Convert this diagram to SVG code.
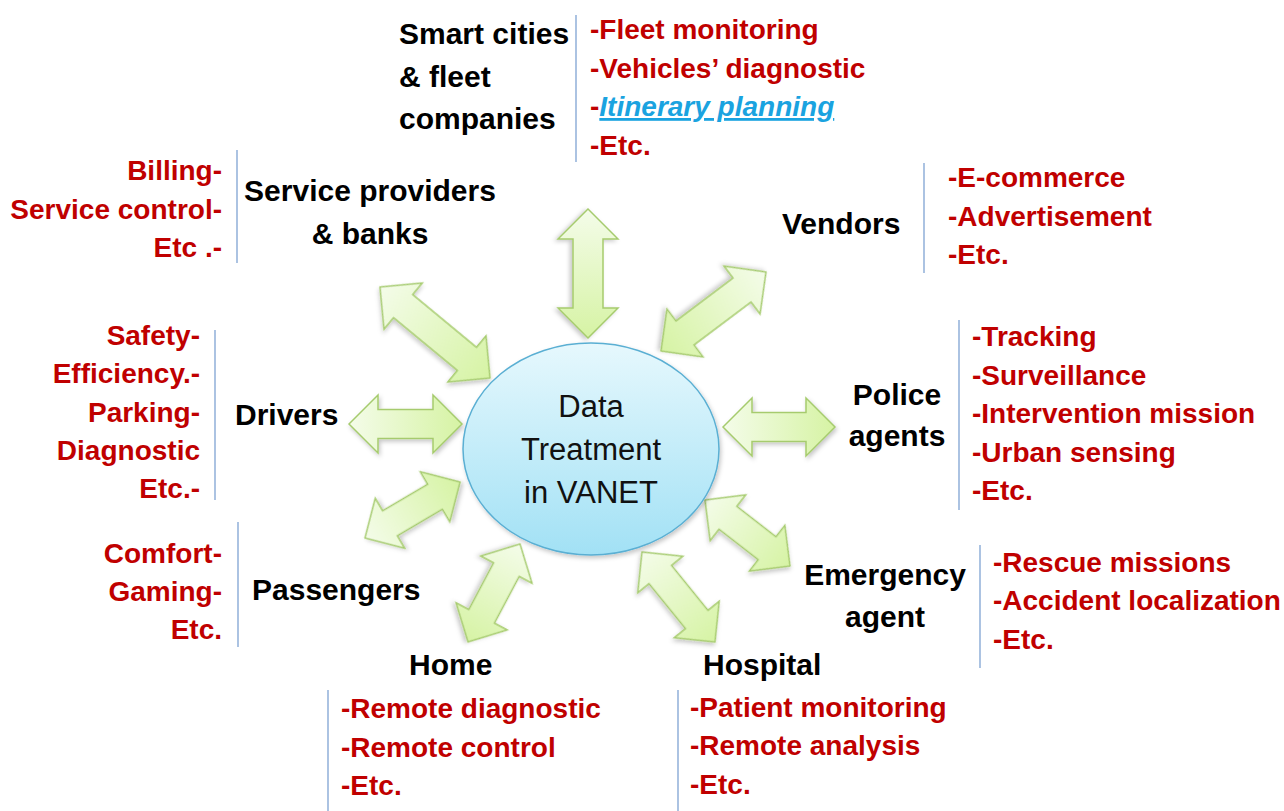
<svg xmlns="http://www.w3.org/2000/svg" width="1284" height="811" viewBox="0 0 1284 811">
<style>
.lbl{font-family:"Liberation Sans",Arial,sans-serif;font-size:30px;font-weight:bold;fill:#000}
.red{font-family:"Liberation Sans",Arial,sans-serif;font-size:28px;font-weight:bold;fill:#C00000}
.ctr{font-family:"Liberation Sans",Arial,sans-serif;font-size:31px;fill:#111;text-anchor:middle}
.end{text-anchor:end}
.mid{text-anchor:middle}
.sep{stroke:#7FA3D3;stroke-width:1.3;fill:none}
.arr{fill:url(#ga);stroke:#A6CB6E;stroke-width:1.5;filter:url(#sh)}
.link{fill:#1AA3E0;font-style:italic;text-decoration:underline}
</style>
<defs>
<linearGradient id="ga" x1="0" y1="0" x2="1" y2="0">
<stop offset="0" stop-color="#F4FCE9"/>
<stop offset="1" stop-color="#D6F3A4"/>
</linearGradient>
<linearGradient id="ge" x1="0" y1="0" x2="0" y2="1">
<stop offset="0" stop-color="#E6F8FD"/>
<stop offset="1" stop-color="#A2E1F5"/>
</linearGradient>
<filter id="sh" x="-20%" y="-20%" width="140%" height="140%">
<feDropShadow dx="1.5" dy="2.5" stdDeviation="2" flood-color="#000" flood-opacity="0.22"/>
</filter>
</defs>
<rect width="1284" height="811" fill="#fff"/>

<g id="connectors">
<path class="arr" transform="translate(588,209) rotate(90)" d="M0,0 L30,-30 L30,-15 L99,-15 L99,-30 L129,0 L99,30 L99,15 L30,15 L30,30 Z"/>
<path class="arr" transform="translate(766,272) rotate(143.04)" d="M0,0 L30,-30 L30,-15 L101.4,-15 L101.4,-30 L131.4,0 L101.4,30 L101.4,15 L30,15 L30,30 Z"/>
<path class="arr" transform="translate(380,287) rotate(39.6)" d="M0,0 L30,-30 L30,-15 L112.8,-15 L112.8,-30 L142.8,0 L112.8,30 L112.8,15 L30,15 L30,30 Z"/>
<path class="arr" transform="translate(349,424)" d="M0,0 L29,-29 L29,-14.5 L84,-14.5 L84,-29 L113,0 L84,29 L84,14.5 L29,14.5 L29,29 Z"/>
<path class="arr" transform="translate(723,427)" d="M0,0 L29,-29 L29,-14.5 L83,-14.5 L83,-29 L112,0 L83,29 L83,14.5 L29,14.5 L29,29 Z"/>
<path class="arr" transform="translate(365,538) rotate(-30.5)" d="M0,0 L29,-29 L29,-14.5 L81.3,-14.5 L81.3,-29 L110.3,0 L81.3,29 L81.3,14.5 L29,14.5 L29,29 Z"/>
<path class="arr" transform="translate(520,544) rotate(117.95)" d="M0,0 L29,-29 L29,-14.5 L81.9,-14.5 L81.9,-29 L110.9,0 L81.9,29 L81.9,14.5 L29,14.5 L29,29 Z"/>
<path class="arr" transform="translate(642,552) rotate(50.96)" d="M0,0 L29,-29 L29,-14.5 L86.9,-14.5 L86.9,-29 L115.9,0 L86.9,29 L86.9,14.5 L29,14.5 L29,29 Z"/>
<path class="arr" transform="translate(705,500) rotate(37.83)" d="M0,0 L29,-29 L29,-14.5 L78.6,-14.5 L78.6,-29 L107.6,0 L78.6,29 L78.6,14.5 L29,14.5 L29,29 Z"/>
</g>

<g id="center">
<ellipse cx="591" cy="449" rx="128" ry="106" fill="url(#ge)" stroke="#5AAFD3" stroke-width="1.5" filter="url(#sh)"/>
<text class="ctr" x="591" y="417">Data</text>
<text class="ctr" x="591" y="460">Treatment</text>
<text class="ctr" x="591" y="503">in VANET</text>
</g>

<g id="smart-cities">
<text class="lbl" x="399" y="44">Smart cities</text>
<text class="lbl" x="399" y="87">&amp; fleet</text>
<text class="lbl" x="399" y="129">companies</text>
<line class="sep" x1="576" y1="15" x2="576" y2="162"/>
<text class="red" x="590" y="39">-Fleet monitoring</text>
<text class="red" x="590" y="78">-Vehicles’ diagnostic</text>
<text class="red" x="590" y="116">-<tspan class="link">Itinerary planning</tspan></text>
<text class="red" x="590" y="155">-Etc.</text>
</g>

<g id="service-providers">
<text class="red end" x="222" y="180">Billing-</text>
<text class="red end" x="222" y="219">Service control-</text>
<text class="red end" x="222" y="257">Etc .-</text>
<line class="sep" x1="237" y1="150" x2="237" y2="263"/>
<text class="lbl mid" x="370" y="201">Service providers</text>
<text class="lbl mid" x="370" y="244">&amp; banks</text>
</g>

<g id="vendors">
<text class="lbl" x="782" y="234">Vendors</text>
<line class="sep" x1="924" y1="163" x2="924" y2="273"/>
<text class="red" x="948" y="187">-E-commerce</text>
<text class="red" x="948" y="226">-Advertisement</text>
<text class="red" x="948" y="264">-Etc.</text>
</g>

<g id="drivers">
<text class="red end" x="200" y="345">Safety-</text>
<text class="red end" x="200" y="383">Efficiency.-</text>
<text class="red end" x="200" y="422">Parking-</text>
<text class="red end" x="200" y="460">Diagnostic</text>
<text class="red end" x="200" y="498">Etc.-</text>
<line class="sep" x1="215" y1="330" x2="215" y2="500"/>
<text class="lbl" x="235" y="425">Drivers</text>
</g>

<g id="police">
<text class="lbl mid" x="897" y="405">Police</text>
<text class="lbl mid" x="897" y="446">agents</text>
<line class="sep" x1="959" y1="320" x2="959" y2="510"/>
<text class="red" x="972" y="346">-Tracking</text>
<text class="red" x="972" y="385">-Surveillance</text>
<text class="red" x="972" y="423">-Intervention mission</text>
<text class="red" x="972" y="462">-Urban sensing</text>
<text class="red" x="972" y="500">-Etc.</text>
</g>

<g id="passengers">
<text class="red end" x="222" y="563">Comfort-</text>
<text class="red end" x="222" y="601">Gaming-</text>
<text class="red end" x="222" y="639">Etc.</text>
<line class="sep" x1="238" y1="522" x2="238" y2="647"/>
<text class="lbl" x="252" y="600">Passengers</text>
</g>

<g id="emergency">
<text class="lbl mid" x="885" y="585">Emergency</text>
<text class="lbl mid" x="885" y="627">agent</text>
<line class="sep" x1="980" y1="545" x2="980" y2="668"/>
<text class="red" x="993" y="572">-Rescue missions</text>
<text class="red" x="993" y="610">-Accident localization</text>
<text class="red" x="993" y="649">-Etc.</text>
</g>

<g id="home">
<text class="lbl" x="409" y="675">Home</text>
<line class="sep" x1="328" y1="690" x2="328" y2="811"/>
<text class="red" x="341" y="718">-Remote diagnostic</text>
<text class="red" x="341" y="757">-Remote control</text>
<text class="red" x="341" y="795">-Etc.</text>
</g>

<g id="hospital">
<text class="lbl" x="703" y="675">Hospital</text>
<line class="sep" x1="678" y1="690" x2="678" y2="811"/>
<text class="red" x="690" y="717">-Patient monitoring</text>
<text class="red" x="690" y="755">-Remote analysis</text>
<text class="red" x="690" y="794">-Etc.</text>
</g>
</svg>
